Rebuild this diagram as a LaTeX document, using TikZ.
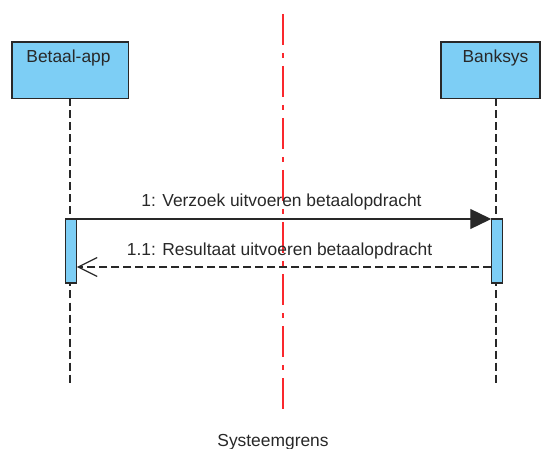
\documentclass[tikz,border=0pt]{standalone}
\usepackage{fontspec}
\setmainfont{Liberation Sans}
\usetikzlibrary{arrows.meta}
\definecolor{boxblue}{RGB}{125,206,245}
\definecolor{edgegray}{RGB}{40,40,40}
\definecolor{bordred}{RGB}{250,40,45}
\begin{document}
\begin{tikzpicture}[x=1pt,y=-1pt,
  lifebox/.style={draw=edgegray,line width=1.3pt,fill=boxblue,minimum width=#1,minimum height=56.5pt,inner sep=0pt,outer sep=0pt},
  actbar/.style={draw=edgegray,line width=1.2pt,fill=boxblue,minimum width=11.5pt,minimum height=64pt,inner sep=0pt,outer sep=0pt},
  lifeline/.style={draw=edgegray,line width=1.4pt,dash pattern=on 8pt off 4pt},
  msglabel/.style={font=\fontsize{17.4}{20}\selectfont,text=edgegray,anchor=base,inner sep=0pt},
  boxlabel/.style={font=\fontsize{17.4}{20}\selectfont,text=edgegray,anchor=base,inner sep=0pt},
  syncmsg/.style={draw=edgegray,line width=1.3pt,-{Triangle[length=21pt,width=20pt]}},
  retmsg/.style={draw=edgegray,line width=1.3pt,dash pattern=on 8pt off 4pt,-{Straight Barb[length=19pt,width=19pt,line width=1.3pt]}},
  boundary/.style={draw=bordred,line width=1.4pt,dash pattern=on 31pt off 8pt on 5pt off 8pt}
]
\useasboundingbox (0,0) rectangle (541,449);
% boundary line
\coordinate (bt) at (283,14);
\coordinate (bb) at (283,415);
\draw[boundary] (bt) -- (bb);
% lifeline boxes
\node[lifebox=116.5pt] (app) at (70.25,70.25) {};
\node[lifebox=99pt] (bank) at (490.5,70.25) {};
\node[boxlabel] (applbl) at (68.5,63) {Betaal-app};
\node[boxlabel] (banklbl) at (495.5,63) {Banksys};
% lifelines
\coordinate (append) at (70,385);
\coordinate (bankend) at (496,385);
\draw[lifeline] (70,98.5) -- (append);
\draw[lifeline] (496,98.5) -- (bankend);
% activation bars
\node[actbar,anchor=north] (appact) at (71,219) {};
\node[actbar,anchor=north] (bankact) at (497,219) {};
% messages
\draw[syncmsg] (appact.north east) -- (bankact.north west);
\coordinate (r1) at ([yshift=-48pt]bankact.north west);
\coordinate (r2) at ([yshift=-48pt]appact.north east);
\draw[retmsg] (r1) -- (r2);
\node[msglabel] (m1) at (281.5,207) {1: Verzoek uitvoeren betaalopdracht};
\node[msglabel] (m2) at (279.5,255) {1.1: Resultaat uitvoeren betaalopdracht};
% boundary label
\node[msglabel] (sys) at (273,446) {Systeemgrens};
\end{tikzpicture}
\end{document}
